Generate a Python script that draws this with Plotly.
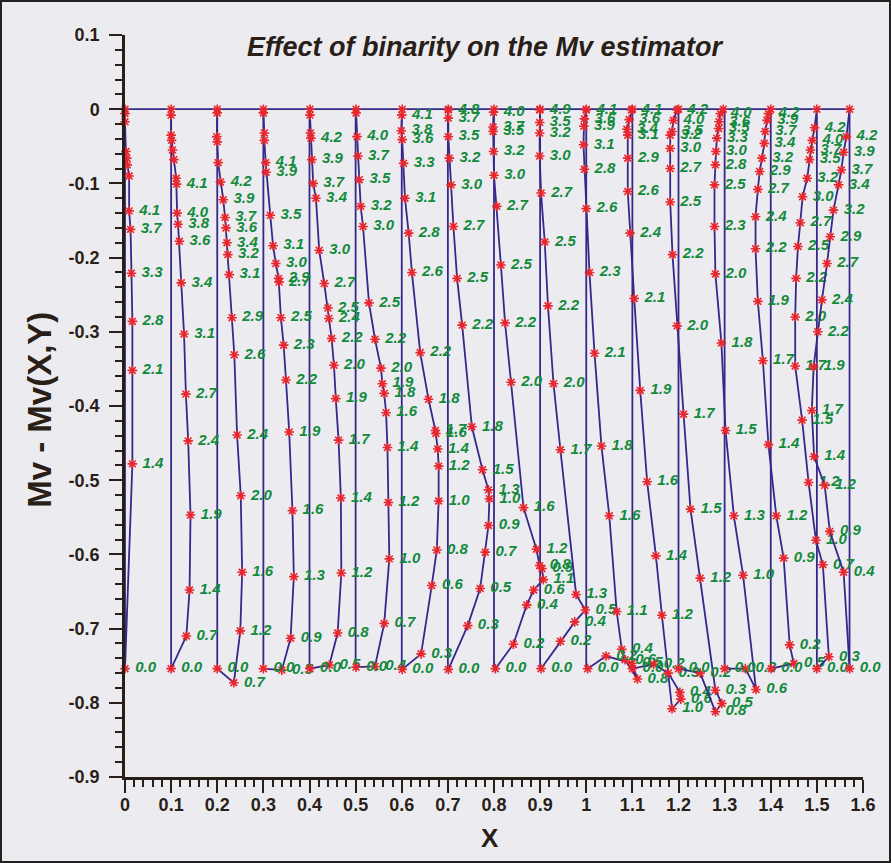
import plotly.graph_objects as go

# foot of every family on the X axis
x_base = [0.0, 0.1, 0.2, 0.3, 0.4, 0.5, 0.6, 0.7, 0.8, 0.9, 1.0, 1.1, 1.2, 1.3, 1.4, 1.5, 1.5708]
y_foot = -0.754

y_tick_vals = [0.1, 0.0, -0.1, -0.2, -0.3, -0.4, -0.5, -0.6, -0.7, -0.8, -0.9]
y_tick_text = ['0.1', '0', '-0.1', '-0.2', '-0.3', '-0.4', '-0.5', '-0.6', '-0.7', '-0.8', '-0.9']

# each family: labels, X, Y (bottom of curve first)
lbl_00 = ['0.0', '1.4', '2.1', '2.8', '3.3', '3.7', '4.1', '', '', '', '', '', '', '']
x_00 = [0.000, 0.016, 0.016, 0.016, 0.014, 0.012, 0.009, 0.009, 0.005, 0.004, 0.002, 0.000, 0.000, 0.000]
y_00 = [-0.754, -0.478, -0.352, -0.286, -0.221, -0.162, -0.137, -0.090, -0.075, -0.066, -0.057, -0.017, -0.006, 0.0]

lbl_01 = ['0.0', '0.7', '1.4', '1.9', '2.4', '2.7', '3.1', '3.4', '3.6', '3.8', '4.0', '4.1', '', '', '', '', '', '', '']
x_01 = [0.100, 0.133, 0.140, 0.142, 0.137, 0.132, 0.128, 0.122, 0.118, 0.115, 0.113, 0.112, 0.111, 0.106, 0.103, 0.101, 0.100, 0.100, 0.100]
y_01 = [-0.754, -0.710, -0.648, -0.547, -0.447, -0.384, -0.303, -0.234, -0.178, -0.155, -0.140, -0.101, -0.093, -0.068, -0.055, -0.042, -0.035, -0.008, 0.0]

lbl_02 = ['0.0', '0.7', '1.2', '1.6', '2.0', '2.4', '2.6', '2.9', '3.1', '3.2', '3.4', '3.6', '3.7', '3.9', '4.2', '', '', '', '', '']
x_02 = [0.200, 0.236, 0.250, 0.254, 0.251, 0.243, 0.237, 0.232, 0.226, 0.223, 0.221, 0.219, 0.217, 0.213, 0.207, 0.202, 0.200, 0.199, 0.200, 0.200]
y_02 = [-0.754, -0.773, -0.703, -0.624, -0.521, -0.439, -0.331, -0.281, -0.223, -0.196, -0.180, -0.160, -0.146, -0.122, -0.098, -0.072, -0.044, -0.037, -0.005, 0.0]

lbl_03 = ['0.0', '0.5', '0.9', '1.3', '1.6', '1.9', '2.2', '2.3', '2.5', '2.7', '2.9', '3.0', '3.1', '3.5', '3.9', '4.1', '', '', '', '']
x_03 = [0.300, 0.340, 0.359, 0.366, 0.363, 0.356, 0.349, 0.344, 0.338, 0.334, 0.333, 0.327, 0.321, 0.315, 0.306, 0.305, 0.302, 0.302, 0.300, 0.300]
y_03 = [-0.754, -0.756, -0.713, -0.630, -0.541, -0.435, -0.365, -0.318, -0.281, -0.233, -0.228, -0.208, -0.184, -0.143, -0.085, -0.072, -0.042, -0.032, -0.005, 0.0]

lbl_04 = ['0.0', '0.5', '0.8', '1.2', '1.4', '1.7', '1.9', '2.0', '2.2', '2.4', '2.5', '2.7', '3.0', '3.4', '3.7', '3.9', '4.2', '', '', '']
x_04 = [0.401, 0.443, 0.461, 0.469, 0.468, 0.463, 0.457, 0.453, 0.448, 0.442, 0.440, 0.432, 0.421, 0.414, 0.408, 0.405, 0.403, 0.402, 0.401, 0.401]
y_04 = [-0.754, -0.749, -0.706, -0.625, -0.524, -0.446, -0.390, -0.345, -0.309, -0.282, -0.268, -0.235, -0.190, -0.120, -0.100, -0.068, -0.039, -0.032, -0.008, 0.0]

lbl_05 = ['0.0', '0.4', '0.7', '1.0', '1.2', '1.4', '1.6', '1.8', '1.9', '2.0', '2.2', '2.5', '3.0', '3.2', '3.5', '3.7', '4.0', '', '']
x_05 = [0.501, 0.542, 0.562, 0.573, 0.571, 0.569, 0.566, 0.562, 0.558, 0.555, 0.542, 0.529, 0.516, 0.511, 0.508, 0.505, 0.503, 0.501, 0.501]
y_05 = [-0.752, -0.751, -0.693, -0.606, -0.530, -0.456, -0.409, -0.383, -0.370, -0.349, -0.310, -0.261, -0.158, -0.131, -0.095, -0.063, -0.037, -0.005, 0.0]

lbl_06 = ['0.0', '0.3', '0.6', '0.8', '1.0', '1.2', '1.4', '1.6', '1.7', '1.8', '2.2', '2.6', '2.8', '3.1', '3.3', '3.6', '3.8', '4.1', '']
x_06 = [0.601, 0.642, 0.665, 0.676, 0.680, 0.680, 0.678, 0.674, 0.673, 0.658, 0.640, 0.622, 0.615, 0.607, 0.604, 0.601, 0.599, 0.600, 0.601]
y_06 = [-0.755, -0.734, -0.642, -0.594, -0.528, -0.481, -0.458, -0.437, -0.433, -0.391, -0.328, -0.220, -0.167, -0.120, -0.073, -0.041, -0.029, -0.008, 0.0]

lbl_07 = ['0.0', '0.3', '0.5', '0.7', '0.9', '1.0', '1.3', '1.5', '1.8', '2.2', '2.5', '2.7', '3.0', '3.2', '3.5', '3.7', '4.8', '']
x_07 = [0.701, 0.743, 0.770, 0.781, 0.788, 0.790, 0.788, 0.775, 0.752, 0.731, 0.720, 0.712, 0.707, 0.703, 0.701, 0.701, 0.701, 0.701]
y_07 = [-0.755, -0.696, -0.646, -0.597, -0.561, -0.525, -0.513, -0.486, -0.428, -0.291, -0.228, -0.158, -0.102, -0.066, -0.037, -0.012, -0.001, 0.0]

lbl_08 = ['0.0', '0.2', '0.4', '0.6', '1.1', '0.9', '0.8', '1.2', '1.6', '2.0', '2.2', '2.5', '2.7', '3.0', '3.2', '3.5', '3.7', '4.0', '']
x_08 = [0.803, 0.842, 0.871, 0.886, 0.907, 0.904, 0.899, 0.892, 0.864, 0.837, 0.824, 0.815, 0.806, 0.800, 0.799, 0.798, 0.798, 0.799, 0.800]
y_08 = [-0.754, -0.721, -0.668, -0.648, -0.634, -0.619, -0.615, -0.593, -0.537, -0.368, -0.288, -0.210, -0.131, -0.089, -0.057, -0.030, -0.024, -0.004, 0.0]

lbl_09 = ['0.0', '0.2', '0.4', '0.5', '1.3', '1.7', '2.0', '2.2', '2.5', '2.7', '3.0', '3.2', '3.5', '4.9', '']
x_09 = [0.902, 0.944, 0.975, 0.998, 0.978, 0.944, 0.929, 0.917, 0.910, 0.902, 0.899, 0.899, 0.899, 0.899, 0.900]
y_09 = [-0.754, -0.717, -0.691, -0.675, -0.654, -0.459, -0.370, -0.265, -0.179, -0.113, -0.063, -0.032, -0.018, -0.001, 0.0]

lbl_10 = ['0.0', '0.2', '0.5', '0.8', '0.6', '0.4', '1.1', '1.6', '1.8', '2.1', '2.3', '2.6', '2.8', '3.1', '3.9', '3.6', '4.1', '']
x_10 = [1.003, 1.043, 1.099, 1.111, 1.084, 1.077, 1.066, 1.050, 1.033, 1.018, 1.007, 1.000, 0.996, 0.994, 0.995, 0.996, 1.000, 1.000]
y_10 = [-0.754, -0.737, -0.747, -0.768, -0.742, -0.728, -0.677, -0.548, -0.454, -0.329, -0.220, -0.134, -0.081, -0.048, -0.023, -0.013, -0.001, 0.0]

lbl_11 = ['0.0', '0.2', '0.3', '0.4', '0.6', '1.0', '1.2', '1.4', '1.6', '1.9', '2.1', '2.4', '2.6', '2.9', '3.1', '3.4', '3.6', '4.1', '']
x_11 = [1.100, 1.146, 1.178, 1.203, 1.205, 1.186, 1.164, 1.151, 1.132, 1.117, 1.104, 1.095, 1.090, 1.090, 1.090, 1.088, 1.093, 1.098, 1.100]
y_11 = [-0.754, -0.748, -0.760, -0.786, -0.795, -0.808, -0.682, -0.602, -0.502, -0.379, -0.255, -0.167, -0.111, -0.066, -0.035, -0.027, -0.014, -0.001, 0.0]

lbl_12 = ['0.0', '0.2', '0.8', '0.5', '0.3', '1.2', '1.5', '1.7', '2.0', '2.2', '2.5', '2.7', '3.0', '3.2', '3.5', '4.0', '4.2', '']
x_12 = [1.200, 1.247, 1.280, 1.294, 1.280, 1.247, 1.226, 1.211, 1.197, 1.187, 1.182, 1.182, 1.182, 1.182, 1.186, 1.189, 1.197, 1.200]
y_12 = [-0.754, -0.760, -0.812, -0.801, -0.783, -0.632, -0.539, -0.411, -0.292, -0.196, -0.125, -0.080, -0.053, -0.035, -0.030, -0.015, -0.001, 0.0]

lbl_13 = ['0.0', '0.3', '0.6', '1.0', '1.3', '1.5', '1.8', '2.0', '2.3', '2.5', '2.8', '3.0', '3.3', '3.5', '3.6', '4.0', '']
x_13 = [1.300, 1.345, 1.368, 1.340, 1.320, 1.302, 1.293, 1.280, 1.278, 1.278, 1.280, 1.281, 1.283, 1.287, 1.288, 1.291, 1.297]
y_13 = [-0.754, -0.754, -0.782, -0.628, -0.548, -0.433, -0.315, -0.222, -0.158, -0.102, -0.075, -0.057, -0.039, -0.026, -0.017, -0.006, 0.0]

lbl_14 = ['0.0', '0.5', '0.2', '0.9', '1.2', '1.4', '1.7', '1.9', '2.2', '2.4', '2.7', '2.9', '3.2', '3.4', '3.7', '3.9', '4.2', '']
x_14 = [1.401, 1.450, 1.441, 1.428, 1.412, 1.395, 1.383, 1.372, 1.367, 1.367, 1.372, 1.376, 1.381, 1.386, 1.388, 1.392, 1.395, 1.400]
y_14 = [-0.754, -0.747, -0.722, -0.605, -0.548, -0.452, -0.339, -0.259, -0.188, -0.145, -0.108, -0.084, -0.066, -0.046, -0.030, -0.015, -0.006, 0.0]

lbl_15 = ['0.0', '0.3', '0.7', '1.0', '1.2', '1.5', '1.7', '2.0', '2.2', '2.5', '2.7', '3.0', '3.2', '3.5', '3.7', '4.0', '4.2', '']
x_15 = [1.500, 1.526, 1.513, 1.498, 1.482, 1.468, 1.453, 1.453, 1.455, 1.459, 1.464, 1.469, 1.479, 1.484, 1.486, 1.490, 1.495, 1.500]
y_15 = [-0.754, -0.738, -0.614, -0.581, -0.503, -0.419, -0.346, -0.280, -0.228, -0.185, -0.153, -0.118, -0.093, -0.068, -0.055, -0.042, -0.025, 0.0]

lbl_16 = ['0.0', '0.4', '0.9', '1.2', '1.4', '1.7', '1.9', '2.2', '2.4', '2.7', '2.9', '3.2', '3.4', '3.7', '3.9', '4.2', '']
x_16 = [1.571, 1.558, 1.528, 1.517, 1.494, 1.489, 1.493, 1.502, 1.511, 1.522, 1.529, 1.536, 1.547, 1.553, 1.558, 1.564, 1.571]
y_16 = [-0.754, -0.624, -0.569, -0.507, -0.468, -0.406, -0.347, -0.300, -0.257, -0.208, -0.172, -0.136, -0.102, -0.082, -0.058, -0.037, 0.0]

families = [
    (lbl_00, x_00, y_00), (lbl_01, x_01, y_01), (lbl_02, x_02, y_02), (lbl_03, x_03, y_03),
    (lbl_04, x_04, y_04), (lbl_05, x_05, y_05), (lbl_06, x_06, y_06), (lbl_07, x_07, y_07),
    (lbl_08, x_08, y_08), (lbl_09, x_09, y_09), (lbl_10, x_10, y_10), (lbl_11, x_11, y_11),
    (lbl_12, x_12, y_12), (lbl_13, x_13, y_13), (lbl_14, x_14, y_14), (lbl_15, x_15, y_15),
    (lbl_16, x_16, y_16),
]

LINE = '#35288a'
STAR = '#e8262e'
GREEN = '#138a3c'
INK = '#2a1e18'
BG = '#ececf0'
FONT = 'Liberation Sans, Arial, sans-serif'

fig = go.Figure()

# top line y = 0
fig.add_trace(go.Scatter(x=[x_base[0], x_base[-1]], y=[0, 0], mode='lines',
                         line=dict(color=LINE, width=1.8), hoverinfo='skip'))

# straight verticals from each foot
for xb in x_base:
    fig.add_trace(go.Scatter(x=[xb, xb], y=[0, y_foot], mode='lines',
                             line=dict(color=LINE, width=1.8), hoverinfo='skip'))

for lbl, xs, ys in families:
    fig.add_trace(go.Scatter(
        x=xs, y=ys, text=lbl, mode='lines+markers+text',
        texttemplate='\u00a0%{text}',  # small gap after the star, as in the original
        textposition='middle right', cliponaxis=False,
        line=dict(color=LINE, width=1.8),
        marker=dict(symbol='asterisk-open', size=8, color=STAR, line=dict(color=STAR, width=1.6)),
        textfont=dict(family=FONT, size=15, color=GREEN, weight='bold', style='italic'),
    ))

axis_common = dict(
    showgrid=False, zeroline=False, showline=True, linecolor=INK, linewidth=2.5,
    ticks='outside', ticklen=13, tickwidth=2, tickcolor=INK,
    tickfont=dict(family=FONT, size=18, color=INK, weight='bold'),
    minor=dict(ticks='outside', ticklen=7, tickwidth=2, tickcolor=INK, tickmode='linear', tick0=0, dtick=0.02),
)

fig.update_layout(
    width=891, height=863, autosize=False,
    margin=dict(l=125, r=28, t=35, b=86),
    paper_bgcolor=BG, plot_bgcolor=BG,
    showlegend=False,
    xaxis=dict(range=[0, 1.6], dtick=0.1, tick0=0, ticklabelstandoff=-3, **axis_common),
    yaxis=dict(range=[-0.9, 0.1], tickmode='array', tickvals=y_tick_vals, ticktext=y_tick_text,
               ticklabelstandoff=6, **axis_common),
    annotations=[
        dict(text='Effect of binarity on the Mv estimator', xref='paper', yref='y', x=0.488, y=0.084,
             xanchor='center', yanchor='middle', showarrow=False,
             font=dict(family=FONT, size=27, color=INK, weight='bold', style='italic')),
        dict(text='Mv - Mv(X,Y)', xref='paper', yref='paper', x=-0.115, y=0.495, textangle=-90,
             xanchor='center', yanchor='middle', showarrow=False,
             font=dict(family=FONT, size=33, color=INK, weight='bold')),
        dict(text='X', xref='paper', yref='paper', x=0.495, y=-0.082,
             xanchor='center', yanchor='middle', showarrow=False,
             font=dict(family=FONT, size=26, color=INK, weight='bold')),
    ],
    shapes=[
        dict(type='rect', xref='paper', yref='paper', x0=-124 / 738, x1=1 + 27 / 738,
             y0=-85 / 742, y1=1 + 34 / 742, line=dict(color='#222', width=2)),
    ],
)

fig.write_html('out.html', config={'displayModeBar': False},
               post_script="document.body.style.margin='0';")
